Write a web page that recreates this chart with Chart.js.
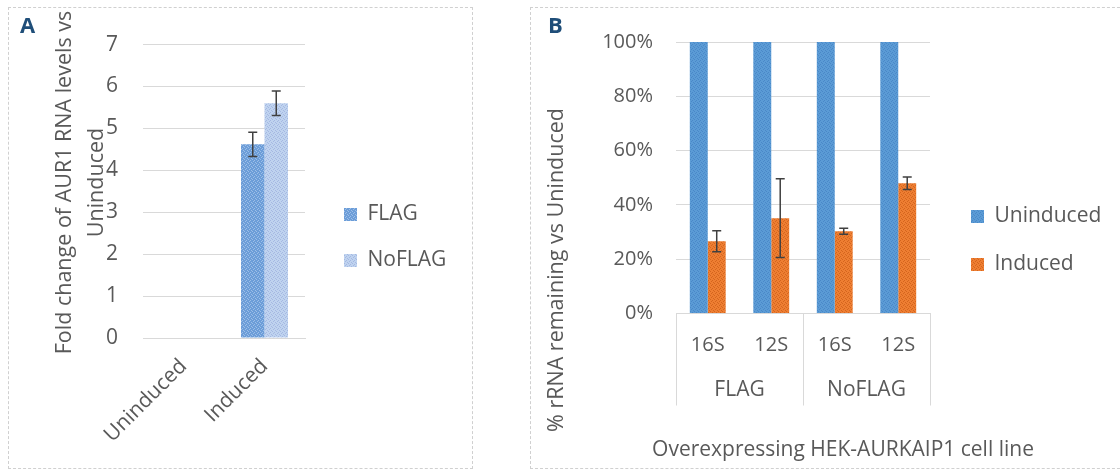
<!DOCTYPE html>
<html>
<head>
<meta charset="utf-8">
<script src="https://cdn.jsdelivr.net/npm/chart.js@4.4.1/dist/chart.umd.min.js"></script>
<style>
body { margin:0; width:1120px; height:470px; overflow:hidden; background:#fff; position:relative; font-family:'Open Sans', sans-serif; }
.panel { position:absolute; top:7px; height:462px; border:1px dashed #d0d0d0; box-sizing:border-box; }
#panelA { left:8px; width:465px; }
#panelB { left:530px; width:600px; }
canvas { position:absolute; top:7px; }
#chartA { left:8px; }
#chartB { left:530px; }
.tag { position:absolute; top:13px; font-size:22px; line-height:22px; font-weight:bold; color:#1f4e79; }
</style>
</head>
<body>
<div class="panel" id="panelA"></div>
<div class="panel" id="panelB"></div>
<canvas id="chartA" width="464" height="461"></canvas>
<canvas id="chartB" width="590" height="461"></canvas>
<div class="tag" style="left:20px">A</div>
<div class="tag" style="left:548px">B</div>
<script>
// panel A: fold change
var aGroups = ['Uninduced', 'Induced'];
var aFlag = [null, 4.62];
var aFlagErr = [null, 0.29];
var aNoFlag = [null, 5.6];
var aNoFlagErr = [null, 0.29];
var aYTitle = ['Fold change of AUR1 RNA levels vs', 'Uninduced'];

// panel B: % rRNA remaining
var bTargets = ['16S', '12S', '16S', '12S'];
var bLines = ['FLAG', 'NoFLAG'];
var bUninduced = [100, 100, 100, 100];
var bInduced = [26.6, 35.1, 30.3, 48];
var bInducedErr = [3.9, 14.5, 1.1, 2.3];
var bYTitle = '% rRNA remaining vs Uninduced';
var bXTitle = 'Overexpressing HEK-AURKAIP1 cell line';

Chart.defaults.font.family = "'Open Sans', sans-serif";
Chart.defaults.font.size = 21;
Chart.defaults.color = '#595959';

// excel style dotted fill
function speckle(base, dot){
	var c = document.createElement('canvas');
	c.width = 4; c.height = 4;
	var g = c.getContext('2d');
	g.fillStyle = base;
	g.fillRect(0, 0, 4, 4);
	g.fillStyle = dot;
	g.fillRect(0, 0, 1, 1);
	g.fillRect(2, 1, 1, 1);
	g.fillRect(1, 2, 1, 1);
	g.fillRect(3, 3, 1, 1);
	return g.createPattern(c, 'repeat');
}

var errorBars = {
	id: 'errorBars',
	afterDatasetsDraw: function(chart){
		var ctx = chart.ctx;
		var y = chart.scales.y;
		chart.data.datasets.forEach(function(ds, i){
			if (!ds.errors) return;
			var meta = chart.getDatasetMeta(i);
			meta.data.forEach(function(bar, j){
				var v = ds.data[j], e = ds.errors[j];
				if (v == null || e == null) return;
				var top = y.getPixelForValue(v + e);
				var bot = y.getPixelForValue(v - e);
				ctx.save();
				ctx.strokeStyle = '#404040';
				ctx.lineWidth = 1.5;
				ctx.beginPath();
				ctx.moveTo(bar.x, top); ctx.lineTo(bar.x, bot);
				ctx.moveTo(bar.x - 4.5, top); ctx.lineTo(bar.x + 4.5, top);
				ctx.moveTo(bar.x - 4.5, bot); ctx.lineTo(bar.x + 4.5, bot);
				ctx.stroke();
				ctx.restore();
			});
		});
	}
};

// excel places the axis titles against the whole plot, not the axis, so draw them here
function excelTitles(conf){
	return {
		id: 'excelTitles',
		afterDraw: function(chart){
			var ctx = chart.ctx;
			ctx.save();
			ctx.fillStyle = '#595959';
			ctx.textAlign = 'center';
			ctx.textBaseline = 'middle';
			if (conf.y) {
				ctx.font = "21.5px 'Open Sans', sans-serif";
				conf.y.lines.forEach(function(line, i){
					ctx.save();
					ctx.translate(conf.y.x + i * (conf.y.gap || 0), conf.y.mid);
					ctx.rotate(-Math.PI / 2);
					ctx.fillText(line, 0, 0);
					ctx.restore();
				});
			}
			if (conf.x) {
				ctx.font = "21px 'Open Sans', sans-serif";
				ctx.fillText(conf.x.text, conf.x.mid, conf.x.y);
			}
			ctx.restore();
		}
	};
}

// empty axes, used only to hold the plot and legend in place
function spacer(w){
	return {
		type: 'linear', axis: 'y', position: 'right', display: true,
		grid: {display: false}, border: {display: false}, ticks: {display: false},
		afterFit: function(s){ s.width = w; }
	};
}
function topSpacer(h){
	return {
		type: 'category', axis: 'x', position: 'top', display: true,
		grid: {display: false}, border: {display: false}, ticks: {display: false},
		afterFit: function(s){ s.height = h; }
	};
}
function filler(plotRight){
	return {
		type: 'linear', axis: 'y', position: 'right', display: true, weight: 2000,
		grid: {display: false}, border: {display: false}, ticks: {display: false},
		afterFit: function(s){
			var used = 0;
			s.chart.boxes.forEach(function(b){
				if (b.position === 'right' && b !== s) used += b.width;
			});
			s.width = Math.max(0, s.chart.width - plotRight - used);
		}
	};
}

new Chart(document.getElementById('chartA'), {
	type: 'bar',
	data: {
		labels: aGroups,
		datasets: [
			{label: 'FLAG', data: aFlag, errors: aFlagErr, backgroundColor: speckle('#6c9dd8', '#9dbfe8')},
			{label: 'NoFLAG', data: aNoFlag, errors: aNoFlagErr, backgroundColor: speckle('#bfd3ef', '#a5b8e2')}
		]
	},
	options: {
		responsive: false,
		animation: false,
		datasets: {bar: {categoryPercentage: 0.58, barPercentage: 1}},
		layout: {padding: {top: 11, bottom: 11, left: 0, right: 0}},
		plugins: {
			legend: {position: 'right', maxWidth: 400, labels: {boxWidth: 13, boxHeight: 13, padding: 25}},
			tooltip: {enabled: false}
		},
		scales: {
			x: {
				grid: {display: false, drawTicks: false},
				border: {color: '#d9d9d9'},
				ticks: {minRotation: 45, maxRotation: 45, padding: 16},
				afterFit: function(s){ s.height = 119; }
			},
			y: {
				min: 0, max: 7,
				ticks: {stepSize: 1, padding: 25},
				grid: {color: '#d9d9d9', drawTicks: false},
				border: {display: false},
				afterFit: function(s){ s.width = 135; }
			},
			top: topSpacer(18),
			pad: spacer(14),
			fill: filler(297)
		}
	},
	plugins: [errorBars, excelTitles({y: {lines: aYTitle, x: 57, gap: 32, mid: 175.5}})]
});

new Chart(document.getElementById('chartB'), {
	type: 'bar',
	data: {
		labels: bTargets,
		datasets: [
			{label: 'Uninduced', data: bUninduced, backgroundColor: speckle('#5b9bd5', '#4a88c8')},
			{label: 'Induced', data: bInduced, errors: bInducedErr, backgroundColor: speckle('#ee7e32', '#d4651e')}
		]
	},
	options: {
		responsive: false,
		animation: false,
		datasets: {bar: {categoryPercentage: 0.565, barPercentage: 1}},
		layout: {padding: {top: 29, bottom: 23, left: 0, right: 0}},
		plugins: {
			legend: {position: 'right', maxWidth: 400, labels: {boxWidth: 13, boxHeight: 13, padding: 27}},
			tooltip: {enabled: false}
		},
		scales: {
			x: {
				grid: {
					display: true, drawOnChartArea: false, offset: true, drawTicks: true, tickLength: 92,
					color: function(c){ return (c.index === undefined || c.index % 2 === 0) ? '#d9d9d9' : 'rgba(0,0,0,0)'; }
				},
				border: {color: '#d9d9d9'},
				ticks: {padding: -72, font: {size: 20}},
				afterFit: function(s){ s.height = 44; }
			},
			xg: {
				type: 'category', labels: bLines, position: 'bottom', offset: true, weight: 1,
				grid: {display: false, drawTicks: false},
				border: {display: false},
				ticks: {padding: 20},
				afterFit: function(s){ s.height = 87.5; }
			},
			y: {
				min: 0, max: 100,
				ticks: {stepSize: 20, padding: 23, font: {size: 20}, callback: function(v){ return v + '%'; }},
				grid: {color: '#d9d9d9', drawTicks: false},
				border: {display: false},
				afterFit: function(s){ s.width = 146; }
			},
			pad: spacer(14),
			fill: filler(400)
		}
	},
	plugins: [errorBars, excelTitles({y: {lines: [bYTitle], x: 27, mid: 263}, x: {text: bXTitle, mid: 313, y: 443}})]
});
</script>
</body>
</html>
